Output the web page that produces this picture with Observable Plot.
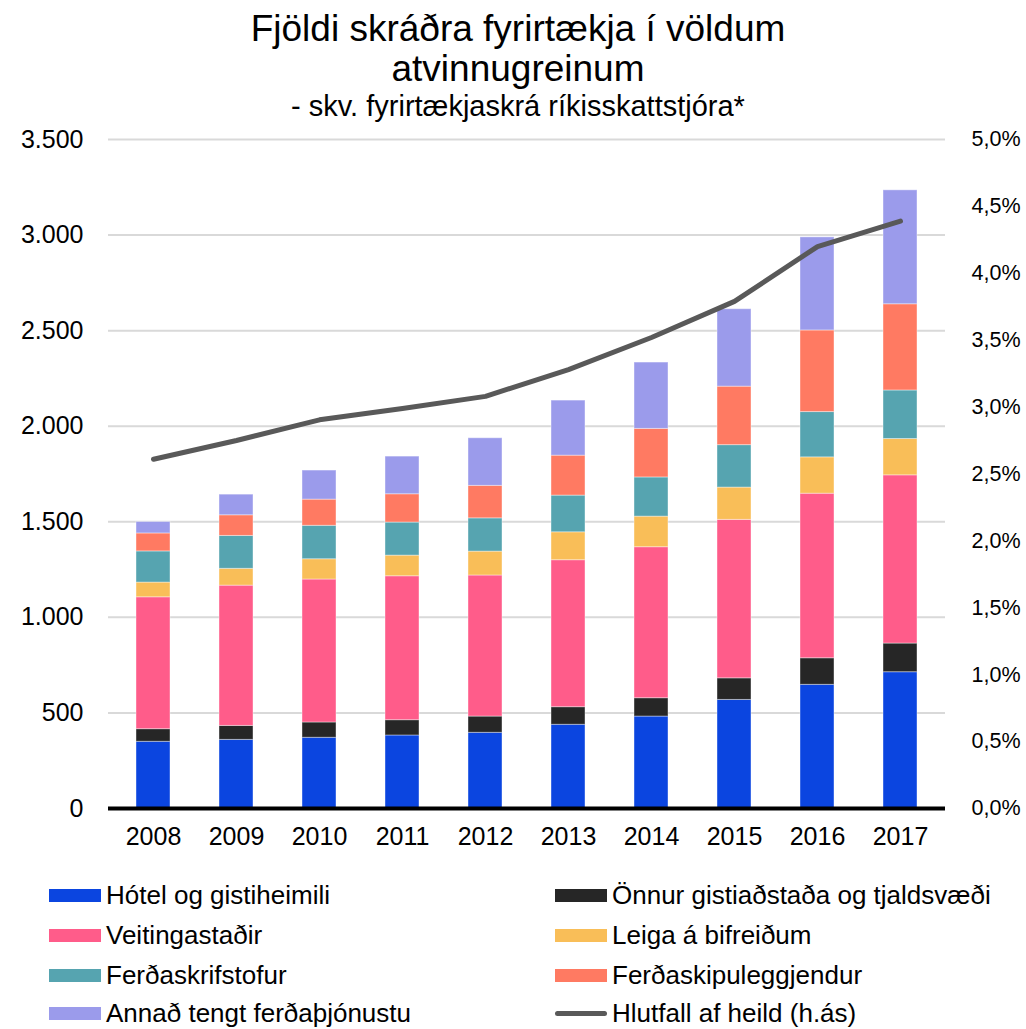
<!DOCTYPE html>
<html>
<head>
<meta charset="utf-8">
<script src="https://cdn.jsdelivr.net/npm/d3@7"></script>
<script src="https://cdn.jsdelivr.net/npm/@observablehq/plot@0.6"></script>
<style>
  body { margin: 0; background: #fff; font-family: "Liberation Sans", Arial, sans-serif; }
  #wrap { position: relative; width: 1026px; height: 1029px; overflow: hidden; }
  .t { position: absolute; left: 10px; width: 1016px; text-align: center; color: #000; white-space: nowrap; }
  #chart { position: absolute; left: 0; top: 125px; }
  .lg { position: absolute; display: flex; align-items: center; font-size: 26px; line-height: 28px; color: #000; white-space: nowrap; }
  .sw { width: 52px; height: 13px; margin-right: 5px; }
  .ln { width: 52px; height: 5px; border-radius: 3px; margin-right: 5px; }
</style>
</head>
<body>
<div id="wrap">
  <div class="t" style="top:9px;font-size:37px;line-height:40px;">Fjöldi skráðra fyrirtækja í völdum<br>atvinnugreinum</div>
  <div class="t" style="top:91px;font-size:29px;line-height:31px;">- skv. fyrirtækjaskrá ríkisskattstjóra*</div>
  <div id="chart"></div>
  <div id="legend"></div>
</div>
<script>
const years = ["2008","2009","2010","2011","2012","2013","2014","2015","2016","2017"];
const seriesNames = ["Hótel og gistiheimili","Önnur gistiaðstaða og tjaldsvæði","Veitingastaðir","Leiga á bifreiðum","Ferðaskrifstofur","Ferðaskipuleggjendur","Annað tengt ferðaþjónustu"];
const seriesColors = ["#0B45E0","#262626","#FF5C8A","#F9BE58","#56A4B0","#FF7A62","#9B9BEB"];
const hotel    = [349, 359, 370, 382, 396, 438, 481, 568, 647, 713];
const onnur    = [66, 73, 80, 80, 85, 92, 96, 113, 139, 150];
const veiting  = [690, 734, 748, 753, 738, 769, 790, 829, 861, 880];
const leiga    = [77, 88, 106, 108, 125, 146, 160, 169, 190, 190];
const skrif    = [163, 172, 175, 173, 174, 192, 205, 222, 237, 254];
const skipul   = [94, 108, 137, 148, 170, 209, 254, 306, 427, 451];
const annad    = [60, 108, 152, 197, 249, 288, 347, 405, 487, 596];
const hlutfall = [2.61, 2.75, 2.905, 2.99, 3.08, 3.28, 3.52, 3.79, 4.20, 4.39];
const lineName = "Hlutfall af heild (h.ás)";
const leftTicks = [0, 500, 1000, 1500, 2000, 2500, 3000, 3500];
const rightTicksPct = [0, 0.5, 1, 1.5, 2, 2.5, 3, 3.5, 4, 4.5, 5];

const seriesValues = [hotel, onnur, veiting, leiga, skrif, skipul, annad];
const barData = [];
seriesNames.forEach((s, i) => years.forEach((y, j) => barData.push({year: y, series: s, value: seriesValues[i][j]})));
const lineData = years.map((y, j) => ({year: y, pct: hlutfall[j]}));

const PCT = 700; // 5% <-> 3500
const loc = d3.formatLocale({decimal: ",", thousands: ".", grouping: [3], currency: ["", ""]});
const fmtLeft = loc.format(",d");
const fmtRight = d => (d / PCT).toFixed(1).replace(".", ",") + "%";

const chart = Plot.plot({
  width: 1026,
  height: 733,
  marginTop: 14,
  marginBottom: 50,
  marginLeft: 108,
  marginRight: 81,
  style: {fontFamily: '"Liberation Sans", Arial, sans-serif', background: "white", color: "#000"},
  x: {domain: years, paddingInner: 0.59, paddingOuter: 0.295, label: null},
  y: {domain: [0, 3500], label: null},
  color: {domain: seriesNames, range: seriesColors},
  marks: [
    Plot.gridY(leftTicks, {stroke: "#d9d9d9", strokeOpacity: 1, strokeWidth: 2}),
    Plot.barY(barData, {x: "year", y: "value", fill: "series", stroke: "white", strokeOpacity: 0.4, strokeWidth: 1}),
    Plot.ruleY([0], {stroke: "#000", strokeWidth: 4}),
    Plot.line(lineData, {x: "year", y: d => d.pct * PCT, stroke: "#595959", strokeWidth: 5, strokeLinecap: "round", strokeLinejoin: "round"}),
    Plot.axisY(leftTicks, {anchor: "left", tickSize: 0, tickPadding: 25, tickFormat: fmtLeft, fontSize: 25, label: null}),
    Plot.axisY(rightTicksPct.map(p => p * PCT), {anchor: "right", tickSize: 0, tickPadding: 26, tickFormat: fmtRight, fontSize: 21.5, label: null}),
    Plot.axisX({tickSize: 0, tickPadding: 19, fontSize: 25, label: null})
  ]
});
document.getElementById("chart").appendChild(chart);

// Legend
const legend = document.getElementById("legend");
const items = seriesNames.map((s, i) => ({name: s, color: seriesColors[i], type: "bar"}));
items.push({name: lineName, color: "#595959", type: "line"});
const rowsY = [895, 935, 975, 1013];
items.forEach((it, k) => {
  const col = k % 2, row = Math.floor(k / 2);
  const div = document.createElement("div");
  div.className = "lg";
  div.style.left = (col === 0 ? 49 : 555) + "px";
  div.style.top = (rowsY[row] - 14) + "px";
  div.style.height = "28px";
  const sw = document.createElement("div");
  sw.className = it.type === "bar" ? "sw" : "ln";
  sw.style.background = it.color;
  div.appendChild(sw);
  const tx = document.createElement("span");
  tx.textContent = it.name;
  div.appendChild(tx);
  legend.appendChild(div);
});
</script>
</body>
</html>
